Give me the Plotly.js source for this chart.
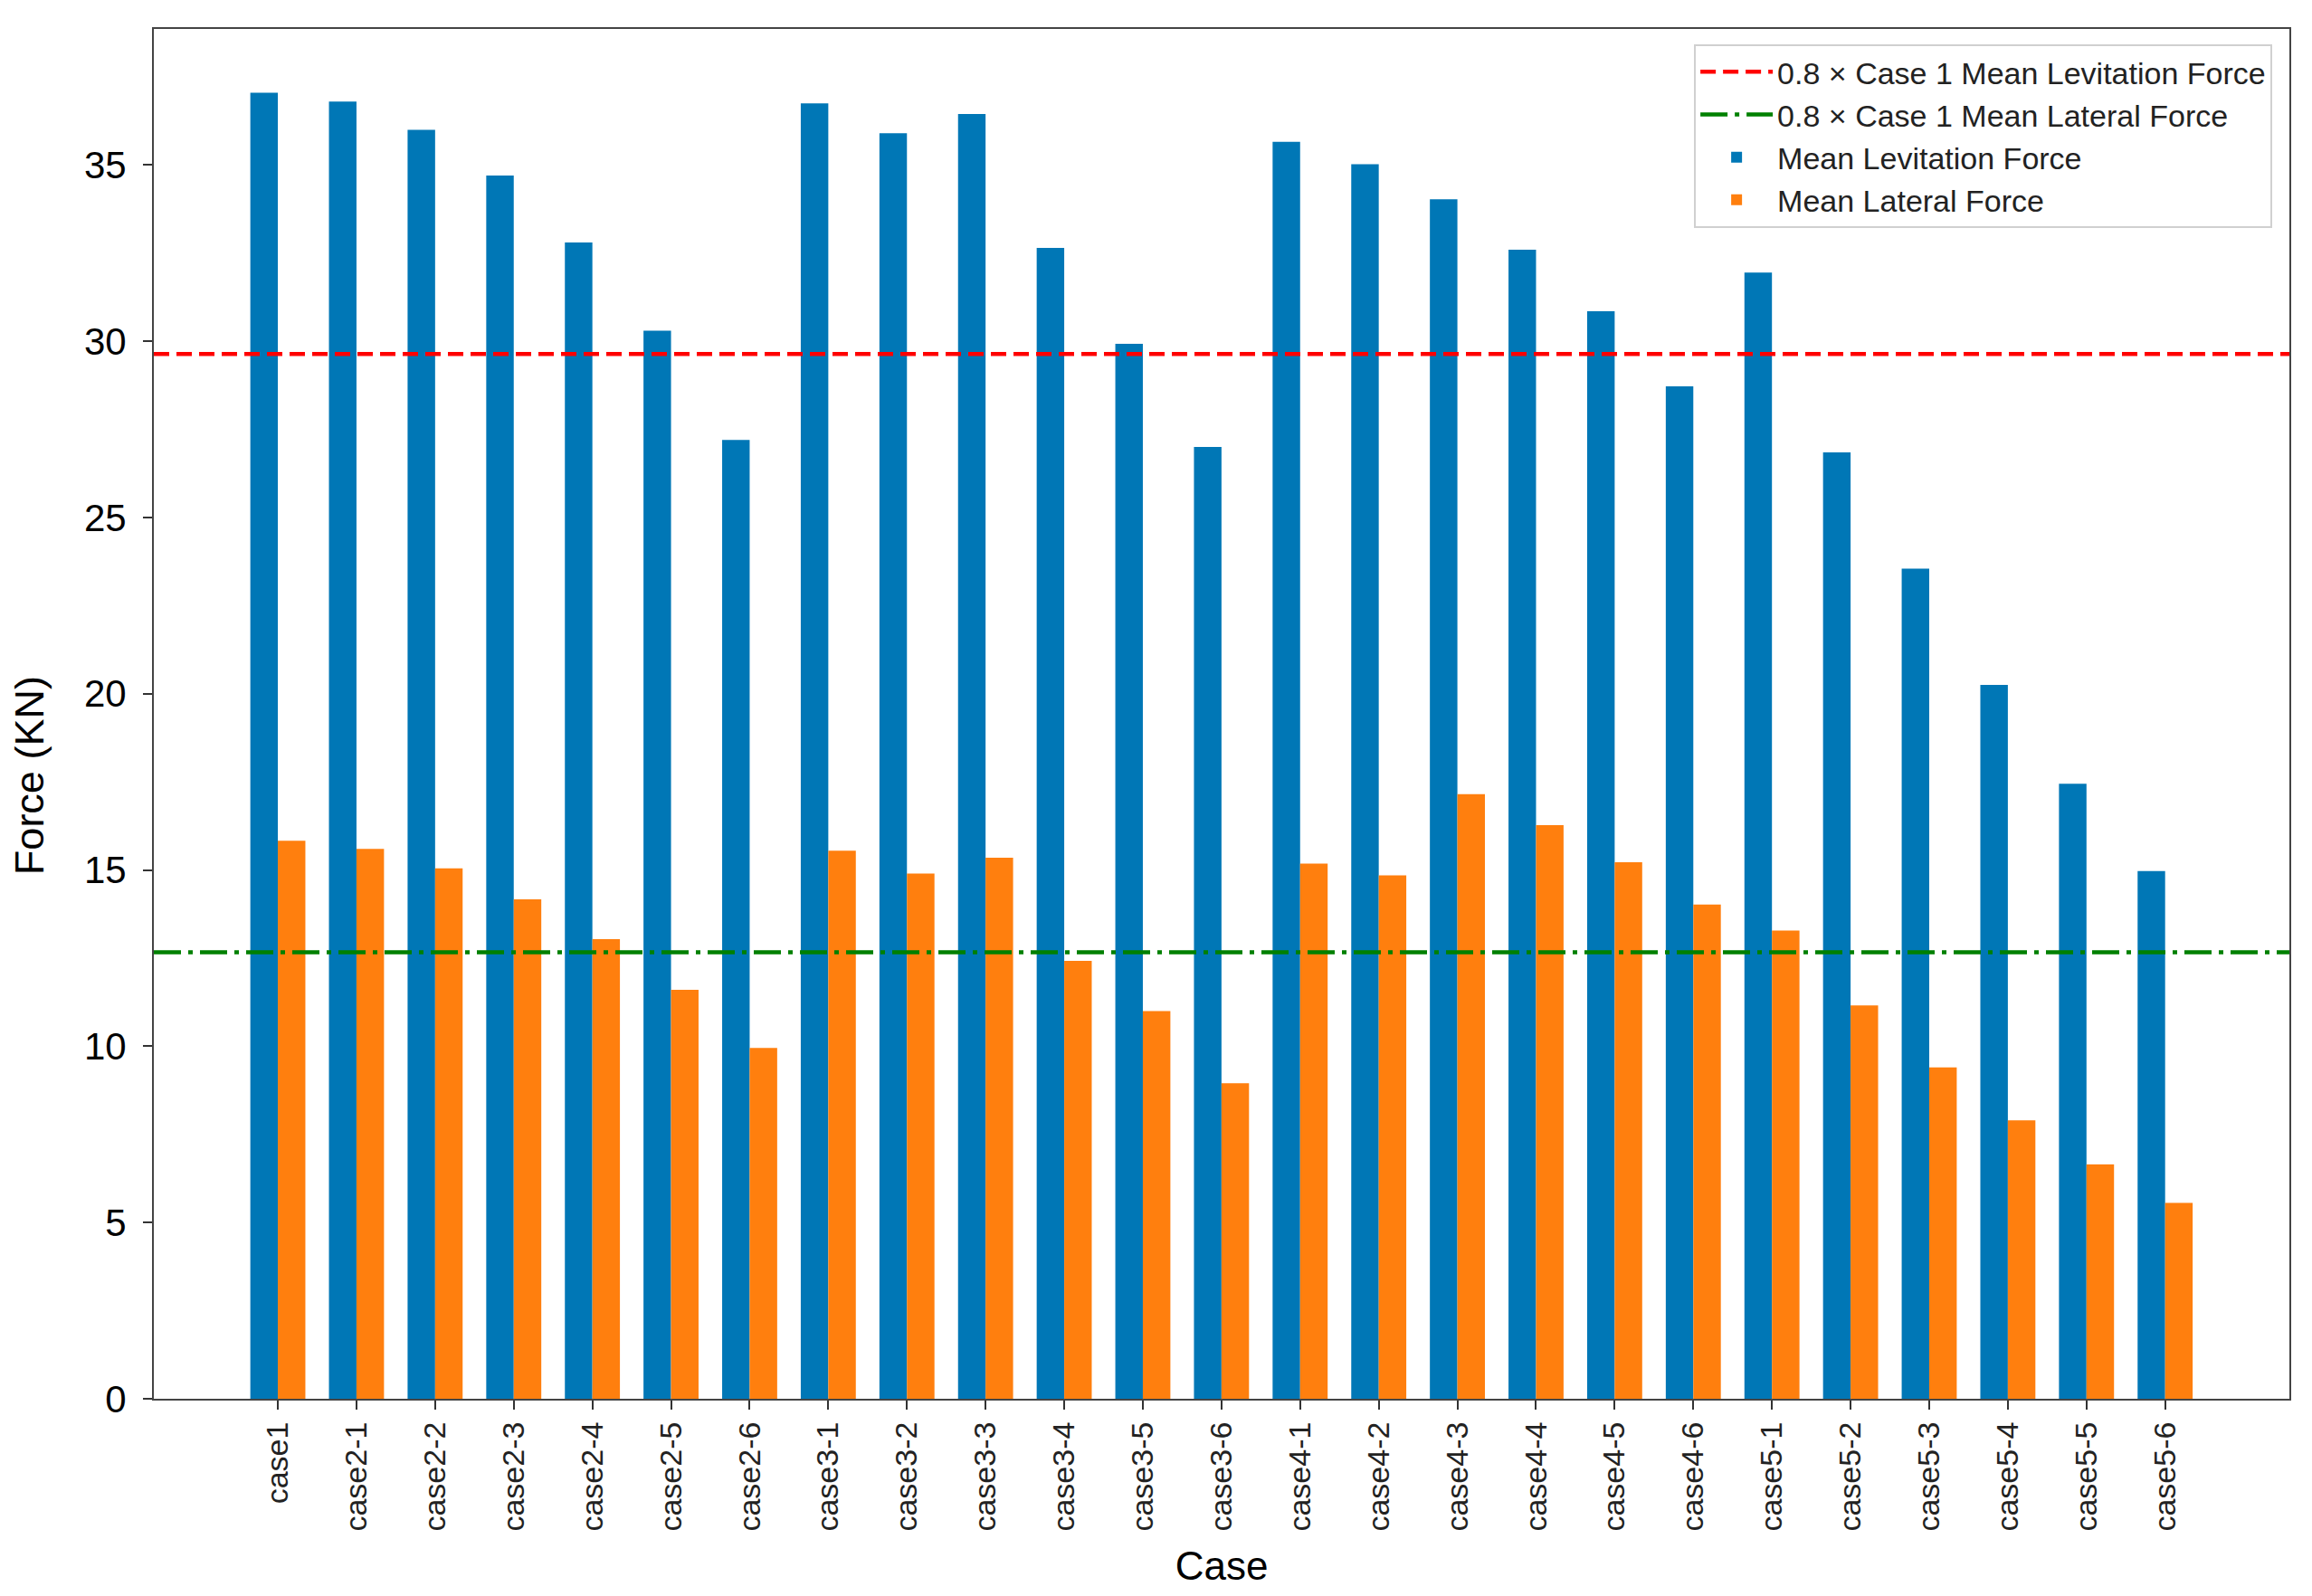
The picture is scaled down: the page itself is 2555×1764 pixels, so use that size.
<!DOCTYPE html>
<html>
<head>
<meta charset="utf-8">
<script src="https://cdn.plot.ly/plotly-3.0.1.min.js"></script>
<style>
  html, body { margin: 0; padding: 0; background: #fff; }
  #chart { width: 2555px; height: 1764px; }
</style>
</head>
<body>
<div id="chart"></div>
<script>
// case names along the x axis
const CASES = [
  'case1',
  'case2-1', 'case2-2', 'case2-3', 'case2-4', 'case2-5', 'case2-6',
  'case3-1', 'case3-2', 'case3-3', 'case3-4', 'case3-5', 'case3-6',
  'case4-1', 'case4-2', 'case4-3', 'case4-4', 'case4-5', 'case4-6',
  'case5-1', 'case5-2', 'case5-3', 'case5-4', 'case5-5', 'case5-6'
];

// KN
const LEVITATION = [
  37.05,
  36.8, 36.0, 34.7, 32.8, 30.3, 27.2,
  36.75, 35.9, 36.45, 32.65, 29.93, 27.0,
  35.66, 35.02, 34.03, 32.6, 30.85, 28.72,
  31.95, 26.85, 23.55, 20.25, 17.45, 14.97
];

const LATERAL = [
  15.83,
  15.6, 15.05, 14.17, 13.04, 11.6, 9.95,
  15.55, 14.9, 15.35, 12.42, 11.0, 8.95,
  15.18, 14.85, 17.15, 16.27, 15.22, 14.02,
  13.28, 11.16, 9.4, 7.9, 6.65, 5.56
];

const REF_FACTOR = 0.8;

const BLUE = '#0077b6';
const ORANGE = '#ff7f0e';
const BAR_W = 0.35;
const X_RANGE = [-1.577, 25.58];
const Y_RANGE = [0, 38.86];

const idx = CASES.map((_, i) => i);
const levRef = REF_FACTOR * LEVITATION[0];
const latRef = REF_FACTOR * LATERAL[0];

const traces = [
  {
    x: X_RANGE,
    y: [levRef, levRef],
    type: 'scatter',
    mode: 'lines',
    name: '0.8 × Case 1 Mean Levitation Force',
    line: { color: '#ff0000', width: 4.5, dash: '17px,8px' },
    hoverinfo: 'skip'
  },
  {
    x: X_RANGE,
    y: [latRef, latRef],
    type: 'scatter',
    mode: 'lines',
    name: '0.8 × Case 1 Mean Lateral Force',
    line: { color: '#008000', width: 4.5, dash: '30px,8px,5px,8px' },
    hoverinfo: 'skip'
  },
  {
    x: idx,
    y: LEVITATION,
    type: 'bar',
    name: 'Mean Levitation Force',
    width: BAR_W,
    offset: -BAR_W,
    marker: { color: BLUE, line: { width: 0 } }
  },
  {
    x: idx,
    y: LATERAL,
    type: 'bar',
    name: 'Mean Lateral Force',
    width: BAR_W,
    offset: 0,
    marker: { color: ORANGE, line: { width: 0 } }
  }
];

const axisLine = { showline: true, mirror: true, linecolor: '#444444', linewidth: 2 };

const layout = {
  width: 2555,
  height: 1764,
  paper_bgcolor: '#ffffff',
  plot_bgcolor: '#ffffff',
  font: { family: 'Liberation Sans, Arial, sans-serif', color: '#000000' },
  barmode: 'overlay',
  margin: { l: 170, r: 25, t: 32, b: 218 },
  xaxis: Object.assign({
    type: 'linear',
    range: X_RANGE,
    tickvals: idx,
    ticktext: CASES,
    tickangle: -90,
    tickfont: { size: 34, color: '#222222' },
    ticks: 'outside',
    ticklen: 10,
    tickwidth: 2,
    tickcolor: '#333333',
    showgrid: false,
    zeroline: false,
    title: { text: 'Case', font: { size: 44, color: '#000000' }, standoff: 24 }
  }, axisLine),
  yaxis: Object.assign({
    range: Y_RANGE,
    tickvals: [0, 5, 10, 15, 20, 25, 30, 35],
    tickfont: { size: 42, color: '#000000' },
    ticks: 'outside',
    ticklen: 10,
    tickwidth: 2,
    tickcolor: '#333333',
    ticklabelstandoff: 10,
    showgrid: false,
    zeroline: false
  }, axisLine),
  // y label sits a little below the middle in the original, so place it by hand
  annotations: [{
    text: 'Force (KN)',
    xref: 'paper',
    yref: 'paper',
    x: 0,
    y: 0.455,
    xanchor: 'center',
    yanchor: 'middle',
    xshift: -138,
    textangle: -90,
    showarrow: false,
    font: { size: 45, color: '#000000' }
  }],
  legend: {
    x: 0.992,
    y: 0.989,
    xanchor: 'right',
    yanchor: 'top',
    bgcolor: 'rgba(255,255,255,0.85)',
    bordercolor: '#d0d0d0',
    borderwidth: 2,
    font: { size: 34, color: '#222222' },
    traceorder: 'normal',
    itemwidth: 80,
    tracegroupgap: 0
  },
  showlegend: true
};

Plotly.newPlot('chart', traces, layout, { displayModeBar: false, staticPlot: true });
</script>
</body>
</html>
